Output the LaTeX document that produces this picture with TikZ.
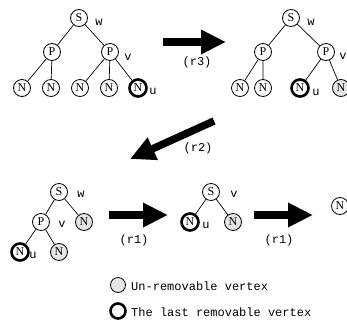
\documentclass[tikz,border=0pt]{standalone}
\usepackage{fontspec}
\setmainfont{Liberation Serif}
\setmonofont{Liberation Mono}
\usetikzlibrary{arrows.meta}
\begin{document}
\begin{tikzpicture}[x=1pt,y=-1pt,
  vtx/.style={circle,draw,line width=0.8pt,minimum size=17pt,inner sep=0pt,font=\fontsize{12}{12}\selectfont},
  grayv/.style={vtx,fill=gray!20},
  boldv/.style={vtx,line width=2.6pt},
  lab/.style={font=\ttfamily\fontsize{12}{12}\selectfont,inner sep=0pt},
  edge/.style={line width=0.7pt},
  bigarrow/.style={line width=7.5pt,-{Triangle[length=25pt,width=23pt]}}]
\useasboundingbox (0,0) rectangle (347,332);
% Tree 1
\node[vtx] (s1) at (79,18) {S};
\node[vtx] (p1a) at (52,52) {P};
\node[vtx] (p1b) at (110,52) {P};
\node[vtx] (n1a) at (22,88) {N};
\node[vtx] (n1b) at (51,88) {N};
\node[vtx] (n1c) at (80,88) {N};
\node[vtx] (n1d) at (109,88) {N};
\node[boldv] (n1e) at (138,88) {N};
\node[lab] (w1) at (99,22) {w};
\node[lab] (v1) at (128,57) {v};
\node[lab] (u1) at (153,91) {u};
\draw[edge] (s1)--(p1a) (s1)--(p1b) (p1a)--(n1a) (p1a)--(n1b) (p1b)--(n1c) (p1b)--(n1d) (p1b)--(n1e);
% Arrow r3
\coordinate (a3s) at (163,42);
\coordinate (a3e) at (226,42);
\draw[bigarrow] (a3s)--(a3e);
\node[lab] (r3) at (197,62) {(r3)};
% Tree 2
\node[vtx] (s2) at (291,18) {S};
\node[vtx] (p2a) at (263,52) {P};
\node[vtx] (p2b) at (326,52) {P};
\node[vtx] (n2a) at (240,88) {N};
\node[vtx] (n2b) at (263,88) {N};
\node[boldv] (n2c) at (300,88) {N};
\node[grayv] (n2d) at (341,88) {N};
\node[lab] (w2) at (311,22) {w};
\node[lab] (v2) at (343,56) {v};
\node[lab] (u2) at (316,92) {u};
\draw[edge] (s2)--(p2a) (s2)--(p2b) (p2a)--(n2a) (p2a)--(n2b) (p2b)--(n2c) (p2b)--(n2d);
% Arrow r2
\coordinate (a2s) at (214,121);
\coordinate (a2e) at (130,159);
\draw[bigarrow] (a2s)--(a2e);
\node[lab] (r2) at (198,148) {(r2)};
% Tree 3
\node[vtx] (s3) at (59,192) {S};
\node[vtx] (p3) at (41,222) {P};
\node[grayv] (n3a) at (84,222) {N};
\node[boldv] (n3b) at (20,252) {N};
\node[grayv] (n3c) at (59,252) {N};
\node[lab] (w3) at (81,194) {w};
\node[lab] (v3) at (62,224) {v};
\node[lab] (u3) at (33,255) {u};
\draw[edge] (s3)--(p3) (s3)--(n3a) (p3)--(n3b) (p3)--(n3c);
% Arrow r1 a
\coordinate (a1s) at (109,215);
\coordinate (a1e) at (168,215);
\draw[bigarrow] (a1s)--(a1e);
\node[lab] (r1a) at (134,240) {(r1)};
% Tree 4
\node[vtx] (s4) at (211,192) {S};
\node[boldv] (n4a) at (190,222) {N};
\node[grayv] (n4b) at (233,222) {N};
\node[lab] (v4) at (234,194) {v};
\node[lab] (u4) at (206,225) {u};
\draw[edge] (s4)--(n4a) (s4)--(n4b);
% Arrow r1 b
\coordinate (b1s) at (254,215);
\coordinate (b1e) at (313,215);
\draw[bigarrow] (b1s)--(b1e);
\node[lab] (r1b) at (279,240) {(r1)};
% Final
\node[vtx] (nf) at (340,206) {N};
% Legend
\node[grayv,minimum size=15pt] (lg1) at (118,285) {};
\node[lab,anchor=west] (lt1) at (131,286) {Un-removable vertex};
\node[boldv,minimum size=15pt] (lg2) at (118,311) {};
\node[lab,anchor=west] (lt2) at (131,312) {The last removable vertex};
\end{tikzpicture}
\end{document}
